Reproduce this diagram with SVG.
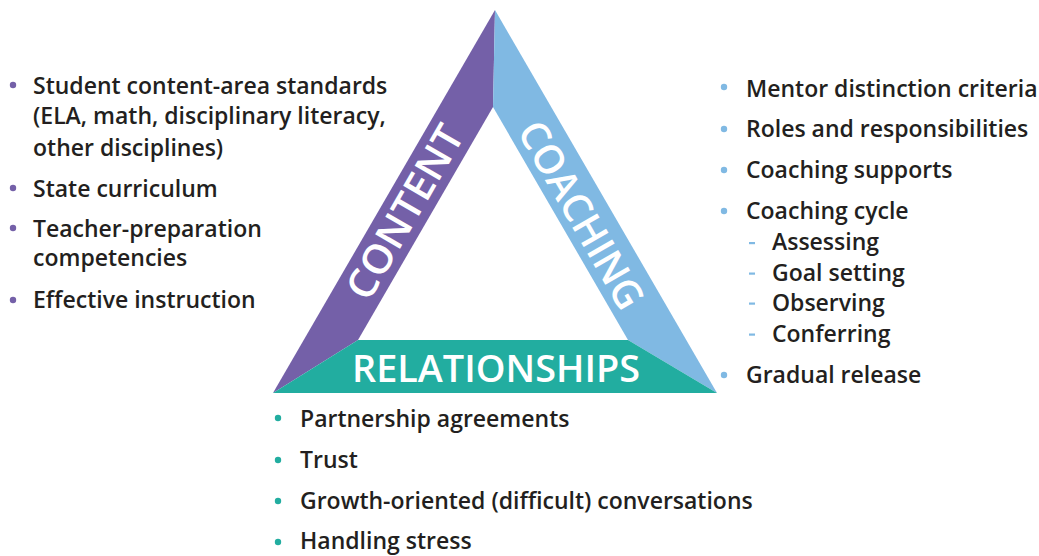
<svg xmlns="http://www.w3.org/2000/svg" width="1039" height="556" viewBox="0 0 1039 556">
  <style>
    .item { font-family: "Open Sans", "Noto Sans", "Liberation Sans", sans-serif; font-weight: 600; font-size: 23px; fill: #231f20; }
    .side { font-family: "Open Sans", "Noto Sans", "Liberation Sans", sans-serif; font-weight: 600; fill: #ffffff; }
    .purple { fill: #7460a8; }
    .blue { fill: #80b9e3; }
    .teal { fill: #22ada0; }
  </style>
  <rect width="1039" height="556" fill="#ffffff"/>

  <!-- Triangle: three bands -->
  <g id="content-band">
    <polygon class="purple" points="495,10 493,107 358,340 273,393"/>
    <text class="side" font-size="40" text-anchor="middle" textLength="194" lengthAdjust="spacingAndGlyphs" transform="translate(417,219) rotate(-60)">CONTENT</text>
  </g>
  <g id="coaching-band">
    <polygon class="blue" points="495,10 717,393 628,340 493,107"/>
    <text class="side" font-size="40" text-anchor="middle" textLength="210" lengthAdjust="spacingAndGlyphs" transform="translate(569,222) rotate(60)">COACHING</text>
  </g>
  <g id="relationships-band">
    <polygon class="teal" points="358,340 628,340 717,393 273,393"/>
    <text class="side" font-size="38" text-anchor="middle" textLength="288" lengthAdjust="spacingAndGlyphs" x="496" y="382">RELATIONSHIPS</text>
  </g>

  <!-- Content list -->
  <g id="content-list">
    <circle class="purple" cx="13" cy="85" r="3.2"/>
    <text class="item" x="33" y="94">Student content-area standards</text>
    <text class="item" x="33" y="124">(ELA, math, disciplinary literacy,</text>
    <text class="item" x="33" y="156">other disciplines)</text>
    <circle class="purple" cx="13" cy="188" r="3.2"/>
    <text class="item" x="33" y="197">State curriculum</text>
    <circle class="purple" cx="13" cy="228" r="3.2"/>
    <text class="item" x="33" y="237">Teacher-preparation</text>
    <text class="item" x="33" y="266">competencies</text>
    <circle class="purple" cx="13" cy="300" r="3.2"/>
    <text class="item" x="33" y="308">Effective instruction</text>
  </g>

  <!-- Coaching list -->
  <g id="coaching-list">
    <circle class="blue" cx="724" cy="87" r="3.2"/>
    <text class="item" x="746" y="97">Mentor distinction criteria</text>
    <circle class="blue" cx="724" cy="129" r="3.2"/>
    <text class="item" x="746" y="137">Roles and responsibilities</text>
    <circle class="blue" cx="724" cy="170" r="3.2"/>
    <text class="item" x="746" y="178">Coaching supports</text>
    <circle class="blue" cx="724" cy="211" r="3.2"/>
    <text class="item" x="746" y="219">Coaching cycle</text>
    <rect class="blue" x="749" y="242" width="6" height="2.2"/>
    <text class="item" x="772" y="250">Assessing</text>
    <rect class="blue" x="749" y="272.5" width="6" height="2.2"/>
    <text class="item" x="772" y="281">Goal setting</text>
    <rect class="blue" x="749" y="302.5" width="6" height="2.2"/>
    <text class="item" x="772" y="311">Observing</text>
    <rect class="blue" x="749" y="333.5" width="6" height="2.2"/>
    <text class="item" x="772" y="342">Conferring</text>
    <circle class="blue" cx="724" cy="375" r="3.2"/>
    <text class="item" x="746" y="383">Gradual release</text>
  </g>

  <!-- Relationships list -->
  <g id="relationships-list">
    <circle class="teal" cx="278" cy="418" r="3.2"/>
    <text class="item" x="300" y="427">Partnership agreements</text>
    <circle class="teal" cx="278" cy="460" r="3.2"/>
    <text class="item" x="300" y="468">Trust</text>
    <circle class="teal" cx="278" cy="501" r="3.2"/>
    <text class="item" x="300" y="509">Growth-oriented (difficult) conversations</text>
    <circle class="teal" cx="278" cy="542" r="3.2"/>
    <text class="item" x="300" y="549">Handling stress</text>
  </g>
</svg>
